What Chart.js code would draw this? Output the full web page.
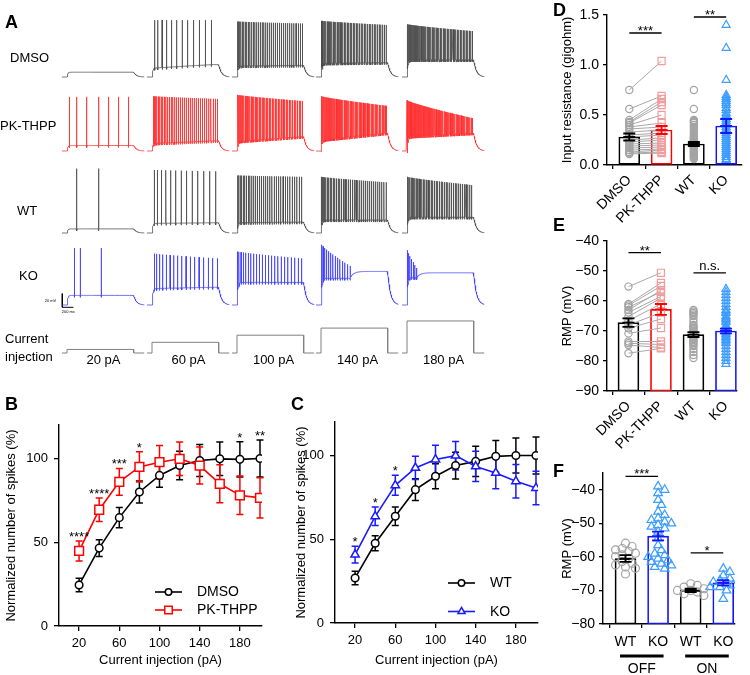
<!DOCTYPE html>
<html>
<head>
<meta charset="utf-8">
<title>Spiking and RMP</title>
<script src="https://cdn.jsdelivr.net/npm/chart.js@4.4.1/dist/chart.umd.min.js"></script>
<style>
  html, body { margin: 0; padding: 0; background: #fff; }
  #figure { position: relative; width: 750px; height: 675px; overflow: hidden;
            font-family: "Liberation Sans", Arial, sans-serif; color: #000; }
  .box { position: absolute; }
  .txt { position: absolute; font-size: 13px; line-height: 13px; white-space: nowrap; }
  .letter { position: absolute; font-size: 18px; line-height: 18px; font-weight: bold; }
  .tiny { position: absolute; font-size: 4px; line-height: 4px; white-space: nowrap; transform: translate(-50%, -50%); }
</style>
</head>
<body>
<div id="figure">
  <div class="box" style="left:0;top:0;width:495px;height:372px"><canvas id="traces"></canvas></div>
  <div class="box" style="left:0;top:400px;width:290px;height:275px"><canvas id="chartB"></canvas></div>
  <div class="box" style="left:290px;top:400px;width:265px;height:275px"><canvas id="chartC"></canvas></div>
  <div class="box" style="left:560px;top:0;width:190px;height:228px"><canvas id="chartD"></canvas></div>
  <div class="box" style="left:560px;top:225px;width:190px;height:230px"><canvas id="chartE"></canvas></div>
  <div class="box" style="left:560px;top:450px;width:190px;height:225px"><canvas id="chartF"></canvas></div>

  <div class="letter" style="left:5px;top:13px">A</div>
  <div class="letter" style="left:5px;top:395px">B</div>
  <div class="letter" style="left:291px;top:395px">C</div>
  <div class="letter" style="left:553px;top:1px">D</div>
  <div class="letter" style="left:553px;top:216px">E</div>
  <div class="letter" style="left:553px;top:462px">F</div>
</div>
<script>
Chart.defaults.font.family = '"Liberation Sans", Arial, sans-serif';
Chart.defaults.color = '#000';

// ---------- A: example traces (rows x injected current) ----------
const rowNames = ['DMSO', 'PK-THPP', 'WT', 'KO'];
const stepCurrents = [20, 60, 100, 140, 180];
const spikeCount = [
  [0, 12, 37, 46, 52],
  [7, 36, 48, 56, 62],
  [2, 13, 33, 38, 42],
  [3, 17, 23, 14, 7]
];
// spike times (ms) of the sparse 20 pA sweeps
const sparseSpikeMs = [[], [132, 264, 444, 660, 834, 1014, 1194], [264, 660], [222, 324, 703]];
const firstSpikeMs = [[0, 138, 101, 95, 92], [0, 115, 95, 92, 89], [0, 130, 104, 95, 92], [0, 132, 96, 102, 96]];
const lastSpikeMs = [[0, 1158, 1267, 1260, 1267], [0, 1267, 1267, 1267, 1267], [0, 1238, 1253, 1260, 1253], [0, 1267, 1253, 612, 264]];
const peakStartMv = [[0, 83, 81, 82, 77], [79, 80, 82, 80, 74], [94, 92, 84, 82, 82], [83, 75, 78, 88, 80]];
const peakEndMv = [[0, 83, 78, 76, 67], [79, 76, 73, 66, 48], [94, 90, 82, 74, 70], [83, 68, 68, 57, 54]];
const troughStartMv = [[7, 13, 16, 20, 25], [8, 11, 14, 16, 21], [6, 14, 15, 19, 23], [14, 24, 33, 39, 40]];
const troughEndMv = [[7, 18, 17, 21, 25], [8, 15, 21, 26, 26], [6, 15, 16, 19, 23], [14, 26, 33, 39, 40]];
const holdMv = [[7, 18, 17, 21, 25], [8, 15, 21, 26, 26], [6, 15, 16, 19, 23], [14, 26, 33, 49, 47]];

// ---------- B / C: input-output curves ----------
const injectionPa = [20, 40, 60, 80, 100, 120, 140, 160, 180, 200];
const dmsoSpikes = [24.5, 46.5, 64.7, 80, 89.9, 95.8, 98.8, 99.8, 99.5, 100];
const dmsoSem = [4, 5, 6, 6.5, 7, 8.5, 9.5, 10, 10.5, 11];
const pkSpikes = [44.8, 69.4, 86.1, 95, 97.8, 99.8, 95.8, 84.9, 78, 76.5];
const pkSem = [6, 7, 8, 9, 10, 10, 11, 11.3, 11.5, 12];
const bStars = ['****', '****', '***', '*', '', '', '', '', '*', '**'];
const wtSpikes = [26.9, 47.6, 63.7, 79.6, 87.6, 94, 96.5, 99.5, 100, 100];
const wtSem = [4, 4.5, 5.5, 6.5, 7.5, 8, 9, 9.5, 10.5, 11];
const koSpikes = [40.8, 63.7, 82.2, 92.6, 97.6, 99.9, 93.5, 89.6, 84.6, 80.6];
const koSem = [5, 5.5, 6, 7, 8.5, 8.5, 9, 9.5, 10, 10];
const cStars = ['*', '*', '*', '', '', '', '', '', '', ''];

// ---------- D: input resistance ----------
const groupsDE = ['DMSO', 'PK-THPP', 'WT', 'KO'];
const rinMean = [0.28, 0.35, 0.21, 0.39];
const rinSem = [0.035, 0.04, 0.02, 0.07];
const rinDmso = [0.75, 0.56, 0.45, 0.43, 0.42, 0.40, 0.38, 0.36, 0.33, 0.30, 0.28, 0.25, 0.23, 0.21, 0.19, 0.17, 0.15, 0.13, 0.12, 0.11];
const rinPk = [1.04, 0.69, 0.66, 0.63, 0.60, 0.50, 0.42, 0.38, 0.35, 0.32, 0.30, 0.27, 0.25, 0.22, 0.20, 0.18, 0.16, 0.15, 0.13, 0.12];
const rinWt = [0.75, 0.56, 0.45, 0.44, 0.43, 0.42, 0.40, 0.38, 0.36, 0.34, 0.32, 0.30, 0.28, 0.27, 0.26, 0.25, 0.24, 0.23, 0.22, 0.21,
               0.20, 0.19, 0.18, 0.17, 0.16, 0.15, 0.14, 0.13, 0.12, 0.11, 0.10, 0.09, 0.08, 0.07, 0.06];
const rinKo = [1.40, 1.17, 0.85, 0.70, 0.68, 0.66, 0.64, 0.62, 0.60, 0.57, 0.55, 0.52, 0.50, 0.48, 0.46, 0.44, 0.42, 0.40, 0.38, 0.36,
               0.34, 0.32, 0.30, 0.28, 0.26, 0.24, 0.22, 0.20, 0.18, 0.16, 0.14, 0.12, 0.10, 0.08, 0.06, 0.05];

// ---------- E: resting membrane potential ----------
const rmpMean = [-67.2, -62.8, -71.2, -70];
const rmpSem = [1.4, 1.8, 0.8, 0.8];
const rmpDmso = [-55.2, -61, -61.5, -62.1, -63, -63.8, -65.2, -66.5, -68, -69.1, -70.8, -73.5, -74.1, -74.7, -77.4];
const rmpPk = [-50.6, -54, -55, -57, -56.5, -58.5, -59, -61, -63.9, -66, -69, -73.5, -74.5, -75.5, -75.8];
const rmpWt = [-63, -63.5, -64, -64.5, -65, -66, -67, -68, -68.5, -69, -69.5, -70, -70.5, -71, -71.5, -72,
               -72.5, -73, -73.5, -74, -74.5, -75, -76, -77, -78, -79];
const rmpKo = [-56, -57, -58, -59, -60, -61, -62, -63, -63.5, -64, -65, -65.5, -66, -66.5, -67, -68, -68.5, -69,
               -69.5, -70, -70.5, -71, -71.5, -72, -72.5, -73, -73.5, -74, -75, -76, -77, -78, -79, -80, -81];

// ---------- F: RMP in OFF / ON cells ----------
const groupsF = ['WT', 'KO', 'WT', 'KO'];
const cellTypesF = ['OFF', 'ON'];
const rmpFMean = [-60.5, -53.8, -70, -67.7];
const rmpFSem = [1, 1.3, 0.5, 0.8];
const offWt = [-55.9, -56.9, -57.5, -57.9, -58.4, -58.9, -59.4, -59.9, -60.4, -61.4, -61.9, -62.4, -63, -63.4, -65.1];
const offKo = [-39, -40, -41, -43, -44.5, -46.5, -47.5, -48.5, -49, -49.5, -50, -50.5, -51, -51.5, -52.5, -54.5, -56.5,
               -58, -59, -59.5, -60, -60.5, -61, -61.5, -62, -62.5, -63, -63.5];
const onWt = [-68, -68.5, -69, -69.5, -70, -70, -70.5, -71, -71.5];
const onKo = [-63.5, -64.5, -65.5, -66.5, -67, -67.5, -68, -68.5, -69, -69, -69.5, -70, -72.5];

// ================= panel A =================
const colLeftPx = [62, 147, 232, 316, 402];
const rowBasePx = [77, 151, 233, 305];
const injBasePx = 353;
const MS_PER_PX = 18, MV_PER_PX = 1.46, PA_PER_PX = 1 / 0.178;
const STEP_ON = 90, STEP_OFF = 1290, TRACE_END = 1480;
const traceColors = ['#474747', '#ff2a2a', '#474747', '#3a3aff'];

function spikeTimes(r, c) {
  if (c === 0) return sparseSpikeMs[r];
  const n = spikeCount[r][c], t0 = firstSpikeMs[r][c], t1 = lastSpikeMs[r][c];
  const times = [];
  for (let i = 0; i < n; i++) times.push(t0 + (t1 - t0) * Math.pow(i / (n - 1), 1.2));
  return times;
}

// membrane level between spikes
function level(r, c, t, tLast) {
  if (t <= STEP_ON) return 0;
  const a = troughStartMv[r][c], b = troughEndMv[r][c], h = holdMv[r][c];
  const tt = Math.min(t, STEP_OFF);
  let v;
  if (tt <= tLast) v = a + (b - a) * (tt - STEP_ON) / Math.max(1, tLast - STEP_ON);
  else v = h + (b - h) * Math.exp(-(tt - tLast) / 60);
  v *= 1 - Math.exp(-(t - STEP_ON) / 14);
  if (t > STEP_OFF) v *= Math.exp(-(t - STEP_OFF) / 50);
  return v;
}

function membranePoints(r, c) {
  const times = spikeTimes(r, c);
  const tLast = times.length ? times[times.length - 1] : STEP_ON;
  const x0 = colLeftPx[c] * MS_PER_PX, y0 = -rowBasePx[r] * MV_PER_PX;
  const pts = [];
  const add = (t, v) => pts.push({ x: x0 + t, y: y0 + v });
  let k = 0;
  for (let t = 0; t <= TRACE_END; t += 5) {
    while (k < times.length && times[k] < t) {
      const ts = times[k];
      const f = times.length > 1 ? k / (times.length - 1) : 0;
      const peak = peakStartMv[r][c] + (peakEndMv[r][c] - peakStartMv[r][c]) * f;
      const v = level(r, c, ts, tLast);
      add(ts, v); add(ts + 1, peak); add(ts + 2.5, v - 3);
      k++;
    }
    if (k > 0 && t - times[k - 1] < 3) continue;
    add(t, level(r, c, t, tLast));
  }
  return pts;
}

const traceSets = [];
rowNames.forEach((name, r) => {
  stepCurrents.forEach((pa, c) => {
    traceSets.push({ data: membranePoints(r, c), borderColor: traceColors[r], borderWidth: 0.75 });
  });
});
stepCurrents.forEach((pa, c) => {
  const x0 = colLeftPx[c] * MS_PER_PX;
  traceSets.push({
    yAxisID: 'yI', borderColor: '#808080', borderWidth: 1,
    data: [[0, 0], [STEP_ON, 0], [STEP_ON, pa], [STEP_OFF, pa], [STEP_OFF, 0], [TRACE_END, 0]].map(p => ({ x: x0 + p[0], y: p[1] }))
  });
});
// scale bar: 20 mV, 200 ms
const barX = 62.3 * MS_PER_PX, barY = -307.3 * MV_PER_PX;
traceSets.push({ borderColor: '#000', borderWidth: 1,
  data: [{ x: barX, y: barY + 20 }, { x: barX, y: barY }, { x: barX + 200, y: barY }] });

new Chart(document.getElementById('traces'), {
  type: 'line',
  data: { datasets: traceSets },
  options: {
    responsive: true, maintainAspectRatio: false, animation: false,
    layout: { padding: 0 },
    plugins: { legend: { display: false }, tooltip: { enabled: false } },
    elements: { point: { radius: 0 }, line: { tension: 0 } },
    scales: {
      x: { type: 'linear', display: false, min: 0, max: 495 * MS_PER_PX },
      y: { display: false, min: -372 * MV_PER_PX, max: 0 },
      yI: { display: false, min: -(372 - injBasePx) * PA_PER_PX, max: injBasePx * PA_PER_PX }
    }
  }
});

const fig = document.getElementById('figure');
function addText(text, left, centerY, cls, center) {
  const d = document.createElement('div');
  d.className = cls || 'txt';
  d.textContent = text;
  d.style.left = left + 'px';
  if (cls === 'tiny') d.style.top = centerY + 'px';
  else d.style.top = (centerY - 6.4) + 'px';
  if (center && cls !== 'tiny') d.style.transform = 'translateX(-50%)';
  fig.appendChild(d);
}
addText('DMSO', 10, 57.5);
addText('PK-THPP', 0, 125.5);
addText('WT', 17, 210.5);
addText('KO', 19, 275);
addText('Current', 5, 338.5);
addText('injection', 5, 356.5);
stepCurrents.forEach((pa, c) => addText(pa + ' pA', colLeftPx[c] + 41.5, 359.7, 'txt', true));
addText('20 mV', 50.5, 300.7, 'tiny');
addText('200 ms', 68.3, 312.3, 'tiny');

// ================= panels B, C =================
function drawMarker(ctx, style, x, y, r) {
  ctx.beginPath();
  if (style === 'circle') ctx.arc(x, y, r, 0, Math.PI * 2);
  else if (style === 'rect') { const s = r * Math.SQRT1_2; ctx.rect(x - s, y - s, 2 * s, 2 * s); }
  else if (style === 'triangle') {
    for (let i = 0; i < 3; i++) {
      const a = -Math.PI / 2 + i * 2 * Math.PI / 3;
      const px = x + Math.cos(a) * r, py = y + Math.sin(a) * r;
      if (i === 0) ctx.moveTo(px, py); else ctx.lineTo(px, py);
    }
    ctx.closePath();
  }
  ctx.fillStyle = '#fff';
  ctx.fill();
  ctx.stroke();
}

function curveExtras(cfg) {
  return {
    id: 'curveExtras',
    beforeDatasetsDraw(chart) {
      const { ctx, scales: { x, y } } = chart;
      ctx.save();
      cfg.series.forEach(s => {
        ctx.strokeStyle = s.color;
        ctx.lineWidth = 1.5;
        s.mean.forEach((m, i) => {
          const px = x.getPixelForValue(injectionPa[i]);
          const top = y.getPixelForValue(m + s.sem[i]), bot = y.getPixelForValue(m - s.sem[i]);
          ctx.beginPath();
          ctx.moveTo(px, top); ctx.lineTo(px, bot);
          ctx.moveTo(px - 3.5, top); ctx.lineTo(px + 3.5, top);
          ctx.moveTo(px - 3.5, bot); ctx.lineTo(px + 3.5, bot);
          ctx.stroke();
        });
      });
      ctx.restore();
    },
    afterDatasetsDraw(chart) {
      const { ctx, scales: { x, y } } = chart;
      ctx.save();
      ctx.fillStyle = '#000';
      ctx.font = '13px "Liberation Sans", Arial, sans-serif';
      ctx.textAlign = 'center';
      ctx.textBaseline = 'alphabetic';
      cfg.stars.forEach((st, i) => {
        if (!st) return;
        const top = Math.max(...cfg.series.map(s => s.mean[i] + s.sem[i]));
        ctx.fillText(st, x.getPixelForValue(injectionPa[i]), y.getPixelForValue(top));
      });
      // legend: line with marker, then name
      const lg = cfg.legend;
      ctx.textAlign = 'left';
      ctx.textBaseline = 'middle';
      ctx.font = '14px "Liberation Sans", Arial, sans-serif';
      cfg.series.forEach((s, i) => {
        const ly = lg.ys[i];
        ctx.strokeStyle = s.color;
        ctx.lineWidth = 1.6;
        ctx.beginPath(); ctx.moveTo(lg.x1, ly); ctx.lineTo(lg.x2, ly); ctx.stroke();
        ctx.lineWidth = 1.5;
        drawMarker(ctx, s.marker, (lg.x1 + lg.x2) / 2, ly, s.radius * 0.85);
        ctx.fillStyle = '#000';
        ctx.fillText(s.name, lg.textX, ly + 0.5);
      });
      ctx.restore();
    }
  };
}

function spikeCurveChart(id, cfg) {
  const datasets = cfg.series.map(s => ({
    label: s.name,
    data: injectionPa.map((pa, i) => ({ x: pa, y: s.mean[i] })),
    borderColor: s.color, borderWidth: 1.6,
    pointStyle: s.marker, pointRadius: s.radius, pointBorderWidth: 1.5,
    pointBorderColor: s.color, pointBackgroundColor: '#ffffff',
    order: s.order
  }));
  const axisLine = { color: '#000', width: 1.4 };
  const tickGrid = { drawOnChartArea: false, tickLength: 5, color: '#000', lineWidth: 1.3 };
  return new Chart(document.getElementById(id), {
    type: 'line',
    data: { datasets },
    options: {
      responsive: true, maintainAspectRatio: false, animation: false,
      layout: { padding: { top: cfg.padTop, right: cfg.padRight, left: 0, bottom: 0 } },
      plugins: { legend: { display: false }, tooltip: { enabled: false } },
      scales: {
        x: {
          type: 'linear', min: 0, max: 202,
          afterBuildTicks: s => { s.ticks = [20, 60, 100, 140, 180].map(v => ({ value: v })); },
          afterFit: s => { s.height = cfg.xHeight; },
          ticks: { font: { size: 13 }, padding: 5, maxRotation: 0, autoSkip: false },
          grid: tickGrid, border: axisLine,
          title: { display: true, text: 'Current injection (pA)', font: { size: 13 }, padding: 7 }
        },
        y: {
          min: 0, max: 120,
          afterBuildTicks: s => { s.ticks = [0, 50, 100].map(v => ({ value: v })); },
          afterFit: s => { s.width = cfg.yWidth; },
          ticks: { font: { size: 13 }, padding: 6 },
          grid: tickGrid, border: axisLine,
          title: { display: true, text: 'Normalized number of spikes (%)', font: { size: 13 }, padding: 4 }
        }
      }
    },
    plugins: [curveExtras(cfg)]
  });
}

spikeCurveChart('chartB', {
  padTop: 25, padRight: 28, xHeight: 49, yWidth: 59,
  stars: bStars,
  legend: { x1: 155, x2: 182, textX: 197, ys: [192, 210] },
  series: [
    { name: 'DMSO', mean: dmsoSpikes, sem: dmsoSem, color: '#000000', marker: 'circle', radius: 3.8, order: 2 },
    { name: 'PK-THPP', mean: pkSpikes, sem: pkSem, color: '#ff0000', marker: 'rect', radius: 6.2, order: 1 }
  ]
});
spikeCurveChart('chartC', {
  padTop: 22, padRight: 17, xHeight: 52, yWidth: 45,
  stars: cStars,
  legend: { x1: 158, x2: 185, textX: 200, ys: [183, 211.5] },
  series: [
    { name: 'WT', mean: wtSpikes, sem: wtSem, color: '#000000', marker: 'circle', radius: 3.8, order: 2 },
    { name: 'KO', mean: koSpikes, sem: koSem, color: '#1a1aff', marker: 'triangle', radius: 4.8, order: 1 }
  ]
});

// ================= panels D, E, F =================
function swarmOffsets(values, pxPerY, pxPerX, diam) {
  const placed = [];
  return values.map(v => {
    const py = v * pxPerY;
    for (let k = 0; k < 40; k++) {
      const px = (k % 2 ? 1 : -1) * Math.ceil(k / 2) * diam * 0.6;
      if (placed.every(p => Math.hypot(p.x - px, p.y - py) >= diam)) {
        placed.push({ x: px, y: py });
        return px / pxPerX;
      }
    }
    return 0;
  });
}

function barExtras(cfg) {
  return {
    id: 'barExtras',
    afterDatasetsDraw(chart) {
      const { ctx, scales: { x, y }, chartArea } = chart;
      ctx.save();
      cfg.means.forEach((m, i) => {
        const px = x.getPixelForValue(i);
        const top = y.getPixelForValue(m + cfg.sems[i]), bot = y.getPixelForValue(m - cfg.sems[i]);
        ctx.strokeStyle = cfg.barColors[i];
        ctx.lineWidth = 1.8;
        ctx.beginPath();
        ctx.moveTo(px, top); ctx.lineTo(px, bot);
        ctx.moveTo(px - 6, top); ctx.lineTo(px + 6, top);
        ctx.moveTo(px - 6, bot); ctx.lineTo(px + 6, bot);
        ctx.moveTo(px - 6, y.getPixelForValue(m)); ctx.lineTo(px + 6, y.getPixelForValue(m));
        ctx.stroke();
      });
      ctx.strokeStyle = '#000';
      ctx.fillStyle = '#000';
      ctx.lineWidth = 1.3;
      ctx.textAlign = 'center';
      ctx.textBaseline = 'alphabetic';
      ctx.font = '13px "Liberation Sans", Arial, sans-serif';
      cfg.sig.forEach(([a, b, val, label]) => {
        const ly = y.getPixelForValue(val);
        const xa = x.getPixelForValue(a), xb = x.getPixelForValue(b);
        ctx.beginPath(); ctx.moveTo(xa, ly); ctx.lineTo(xb, ly); ctx.stroke();
        const onlyStars = /^\*+$/.test(label);
        ctx.fillText(label, (xa + xb) / 2, onlyStars ? ly + 2 : ly - 3);
      });
      if (cfg.cellTypes) {
        ctx.lineWidth = 3;
        ctx.font = '14px "Liberation Sans", Arial, sans-serif';
        ctx.textBaseline = 'middle';
        cfg.cellTypes.forEach((name, g) => {
          const xa = x.getPixelForValue(2 * g) - 5.5, xb = x.getPixelForValue(2 * g + 1) + 5.5;
          const ly = chartArea.bottom + 32;
          ctx.beginPath(); ctx.moveTo(xa, ly); ctx.lineTo(xb, ly); ctx.stroke();
          ctx.fillText(name, (xa + xb) / 2, chartArea.bottom + 45.5);
        });
      }
      ctx.restore();
    }
  };
}

function dotBarChart(id, cfg) {
  const datasets = [{
    type: 'bar',
    data: cfg.means.map((m, i) => ({ x: i, y: [cfg.yMin, m] })),
    backgroundColor: '#ffffff', borderColor: cfg.barColors, borderWidth: 1.7,
    borderSkipped: false, barThickness: 21, order: 4
  }];
  if (cfg.paired) {
    const pts = [];
    cfg.values[0].forEach((v, k) => pts.push({ x: 0, y: v }, { x: 1, y: cfg.values[1][k] }, { x: 0.5, y: null }));
    datasets.push({ type: 'line', data: pts, borderColor: '#a8a8a8', borderWidth: 1, pointRadius: 0, spanGaps: false, order: 3 });
  }
  cfg.values.forEach((vals, i) => {
    const offs = cfg.swarm ? swarmOffsets(vals, cfg.swarm.pxY, cfg.swarm.pxX, cfg.swarm.d) : vals.map(() => 0);
    datasets.push({
      type: 'scatter',
      data: vals.map((v, k) => ({ x: i + offs[k], y: v })),
      pointStyle: cfg.markers[i], pointRadius: cfg.radii[i],
      pointBorderColor: cfg.dotColors[i], pointBackgroundColor: 'rgba(255,255,255,0)',
      pointBorderWidth: 1.2, order: 2
    });
  });
  const axisLine = { color: '#000', width: 1.4 };
  const tickGrid = { drawOnChartArea: false, tickLength: 4, color: '#000', lineWidth: 1.3 };
  const fmt = v => (v < 0 ? '\u2212' : '') + Math.abs(v).toFixed(cfg.decimals);
  return new Chart(document.getElementById(id), {
    type: 'bar',
    data: { datasets },
    options: {
      responsive: true, maintainAspectRatio: false, animation: false,
      layout: { padding: { top: cfg.padTop, right: cfg.padRight, left: 0, bottom: 0 } },
      plugins: { legend: { display: false }, tooltip: { enabled: false } },
      scales: {
        x: {
          type: 'linear', min: cfg.xMin, max: cfg.xMax, offset: false,
          afterBuildTicks: s => { s.ticks = cfg.names.map((n, i) => ({ value: i })); },
          afterFit: s => { s.height = cfg.xHeight; },
          ticks: { callback: v => cfg.names[v], font: { size: 14 }, padding: cfg.xPad,
                   minRotation: cfg.rotate, maxRotation: cfg.rotate, autoSkip: false },
          grid: tickGrid, border: axisLine
        },
        y: {
          min: cfg.yMin, max: cfg.yMax,
          afterBuildTicks: s => { s.ticks = cfg.yTicks.map(v => ({ value: v })); },
          afterFit: s => { s.width = cfg.yWidth; },
          ticks: { callback: fmt, font: { size: 14 }, padding: 4 },
          grid: tickGrid, border: axisLine,
          title: { display: true, text: cfg.yTitle, font: { size: 13 }, padding: 0 }
        }
      }
    },
    plugins: [barExtras(cfg)]
  });
}

const grey = '#a3a3a3', pink = '#f39c9c', lightBlue = '#3d9cff';

dotBarChart('chartD', {
  names: groupsDE, means: rinMean, sems: rinSem,
  values: [rinDmso, rinPk, rinWt, rinKo], paired: true,
  barColors: ['#000000', '#ff0000', '#000000', '#1414ff'],
  dotColors: [grey, pink, grey, lightBlue],
  markers: ['circle', 'rect', 'circle', 'triangle'], radii: [3.6, 5, 3.6, 4.6],
  sig: [[0, 1, 1.32, '***'], [2, 3, 1.48, '**']],
  yMin: 0, yMax: 1.5, yTicks: [0, 0.5, 1, 1.5], decimals: 1,
  yTitle: 'Input resistance (gigohm)',
  xMin: -0.69, xMax: 3.49, padTop: 15, padRight: 8, yWidth: 47, xHeight: 63, xPad: 3, rotate: 45
});
dotBarChart('chartE', {
  names: groupsDE, means: rmpMean, sems: rmpSem,
  values: [rmpDmso, rmpPk, rmpWt, rmpKo], paired: true,
  barColors: ['#000000', '#ff0000', '#000000', '#1414ff'],
  dotColors: [grey, pink, grey, lightBlue],
  markers: ['circle', 'rect', 'circle', 'triangle'], radii: [3.6, 5, 3.6, 4.6],
  sig: [[0, 1, -43.9, '**'], [2, 3, -50.6, 'n.s.']],
  yMin: -90, yMax: -40, yTicks: [-90, -80, -70, -60, -50, -40], decimals: 0,
  yTitle: 'RMP (mV)',
  xMin: -0.66, xMax: 3.34, padTop: 16, padRight: 13, yWidth: 47, xHeight: 64, xPad: 3, rotate: 45
});
dotBarChart('chartF', {
  names: groupsF, means: rmpFMean, sems: rmpFSem, cellTypes: cellTypesF,
  values: [offWt, offKo, onWt, onKo], paired: false,
  swarm: { pxY: 3.35, pxX: 32.5, d: 5.5 },
  barColors: ['#000000', '#1414ff', '#000000', '#1414ff'],
  dotColors: [grey, lightBlue, grey, lightBlue],
  markers: ['circle', 'triangle', 'circle', 'triangle'], radii: [4, 5, 4, 5],
  sig: [[0, 1, -36, '***'], [2, 3, -58.8, '*']],
  yMin: -80, yMax: -35, yTicks: [-80, -70, -60, -50, -40], decimals: 0,
  yTitle: 'RMP (mV)',
  xMin: -0.69, xMax: 3.36, padTop: 23, padRight: 15, yWidth: 43, xHeight: 51, xPad: 6, rotate: 0
});
</script>
</body>
</html>
